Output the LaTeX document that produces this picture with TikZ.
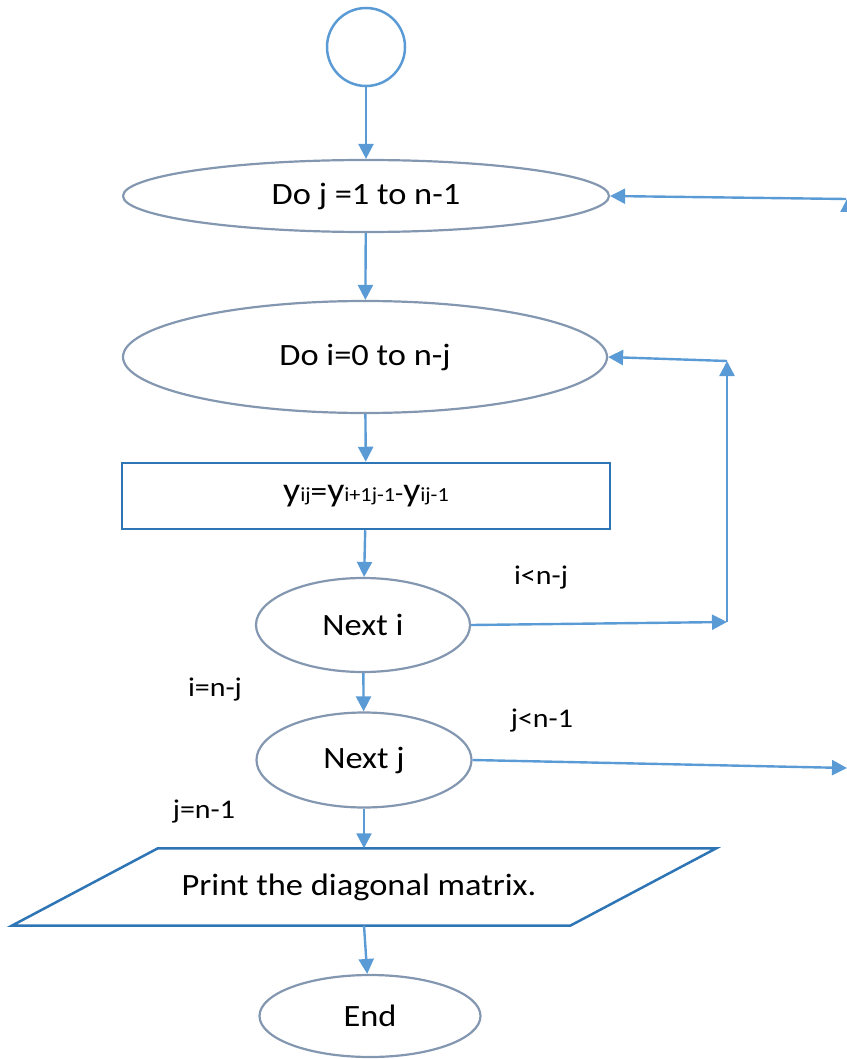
\documentclass[tikz,border=0pt]{standalone}
\usepackage{fontspec}
\setmainfont[FakeStretch=1.11]{Carlito}
\usetikzlibrary{shapes.geometric,arrows.meta}

\definecolor{linkblue}{HTML}{5B9BD5}
\definecolor{rimgray}{HTML}{8497B0}
\definecolor{boxblue}{HTML}{2E75B6}

\newcommand{\fsz}[1]{\fontsize{#1}{#1}\selectfont}
\newcommand{\bigy}{{\fsz{34}y}}
\newcommand{\smallidx}[1]{{\fsz{20}#1}}

\tikzset{
  loopoval/.style={ellipse, draw=rimgray, line width=2.2pt, inner sep=0pt,
                   font=\fsz{31}},
  calcbox/.style={rectangle, draw=boxblue, line width=2.5pt, inner sep=0pt},
  iobox/.style={rectangle, inner sep=0pt, font=\fsz{31}},
  ioedge/.style={draw=boxblue, line width=2.5pt, line join=miter},
  link/.style={draw=linkblue, line width=2.4pt,
               -{Triangle[length=15pt,width=15pt]}},
  cond/.style={font=\fsz{27}, inner sep=0pt}
}

\begin{document}
\begin{tikzpicture}[x=1pt,y=-1pt]
\useasboundingbox (0,0) rectangle (846,1059);

% terminals and loop heads
\node[circle, draw=linkblue, line width=2.5pt, minimum size=78pt, inner sep=0pt] (start) at (366,47) {};
\node[loopoval, minimum width=486pt, minimum height=72pt]  (doj)   at (366,196) {Do j =1 to n-1};
\node[loopoval, minimum width=484pt, minimum height=112pt] (doi)   at (365,357) {Do i=0 to n-j};
\node[calcbox, minimum width=488pt, minimum height=66pt]   (calc)  at (366,496)
  {\bigy\smallidx{ij}{\fsz{30}=}\bigy\smallidx{i+1j-1}{\fsz{24}-}\bigy\smallidx{ij-1}};
\node[loopoval, minimum width=214pt, minimum height=94pt]  (nexti) at (363,625) {Next i};
\node[loopoval, minimum width=215pt, minimum height=95pt]  (nextj) at (364,760) {Next j};

% output step: slanted box around a plain text node
\node[iobox, minimum width=704pt, minimum height=77pt] (print) at (364,887)
  {\hspace*{-10pt}Print the diagonal matrix.};
\draw[ioedge] ([xshift=146pt]print.north west) -- (print.north east)
  -- ([xshift=-146pt]print.south east) -- (print.south west) -- cycle;

\node[loopoval, minimum width=221pt, minimum height=82pt]  (endn)  at (370,1016) {End};

% bend points of the loop-back paths
\coordinate (ibend)  at (727,622);
\coordinate (itop)   at (727,361);
\coordinate (jout)   at (847,768);
\coordinate (jback)  at (846,199);
\coordinate (jrise)  at (848,260);
\coordinate (jtop)   at (848,197);

% main flow
\draw[link] (start) -- (doj);
\draw[link] (doj) -- (doi);
\draw[link] (doi) -- (calc);
\draw[link] (calc) -- (nexti);
\draw[link] (nexti) -- (nextj);
\draw[link] (nextj) -- (print.north);
\draw[link] (print.south) -- (endn);

% inner loop return
\draw[link] (nexti.east) -- (ibend);
\draw[link] (ibend) -- (itop);
\draw[link] (itop) -- (doi.east);

% outer loop return
\draw[link] (nextj.east) -- (jout);
\draw[link] (jrise) -- (jtop);
\draw[link] (jback) -- (doj.east);

% branch conditions
\node[cond] (lti) at (541,578) {i<n-j};
\node[cond] (eqi) at (215,690) {i=n-j};
\node[cond] (ltj) at (542,721) {j<n-1};
\node[cond] (eqj) at (204,812) {j=n-1};
\end{tikzpicture}
\end{document}
